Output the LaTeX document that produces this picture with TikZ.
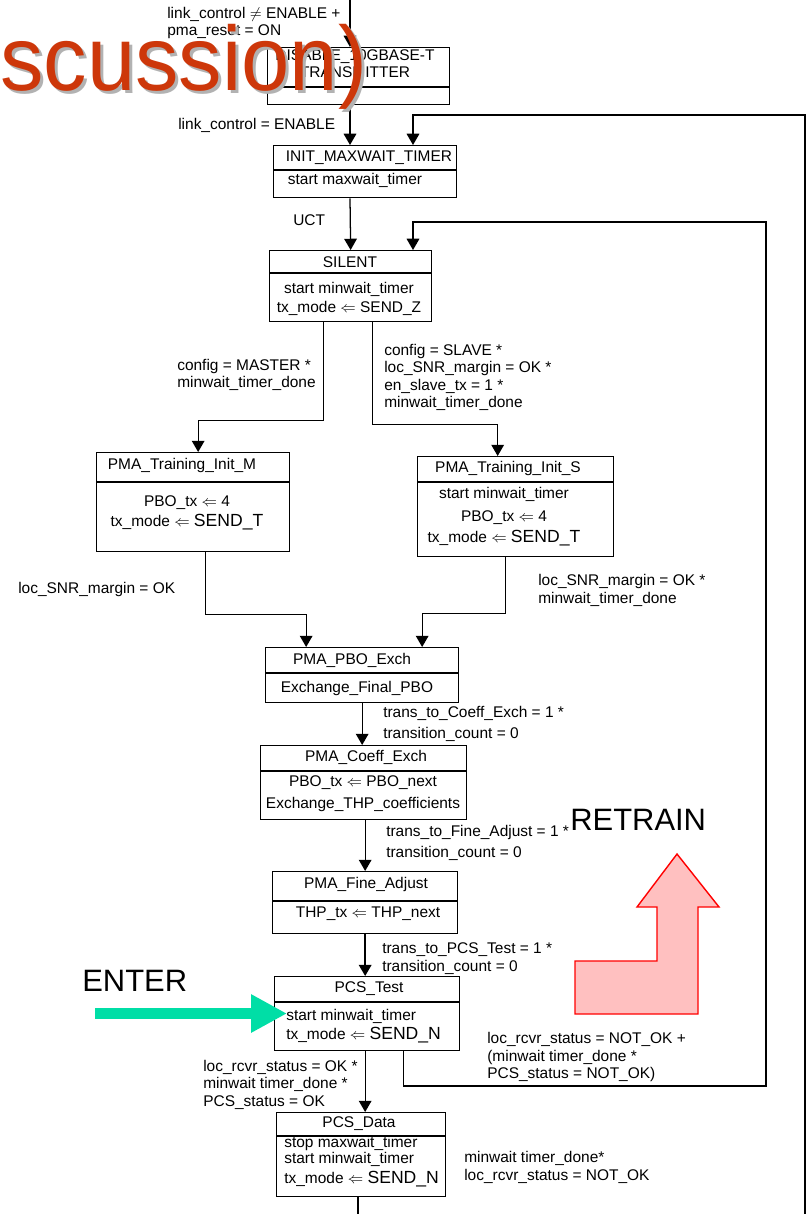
\documentclass[tikz,border=0pt]{standalone}
\usepackage{fontspec}
\setmainfont{Liberation Sans}
\newfontfamily\bigsans[FakeStretch=0.95]{Liberation Sans}
\usetikzlibrary{positioning,calc,arrows.meta}
\definecolor{overlayred}{RGB}{205,55,10}
\definecolor{entergreen}{RGB}{0,222,166}
\definecolor{retrainfill}{RGB}{255,192,192}
\newcommand{\sendval}[1]{{\fontsize{12.5}{14}\selectfont #1}}

\begin{document}
\begin{tikzpicture}[x=0.025cm, y=-0.025cm, font=\fontsize{11}{12.5}\selectfont]
\tikzset{
  statebox/.style={draw=black, line width=0.9pt, inner sep=0pt, anchor=north west},
  boxtitle/.style={inner sep=0pt, align=center},
  boxbody/.style={inner sep=0pt, align=center, font=\fontsize{11}{14}\selectfont},
  cond/.style={inner sep=0pt, anchor=west, align=left},
  wire/.style={draw=black, line width=0.9pt},
  arr/.style={wire, -{Triangle[length=8pt,width=9pt]}},
  banner/.style={inner sep=0pt, anchor=west, font=\fontsize{22}{24}\selectfont},
  enterarrow/.style={draw=entergreen, line width=7.8pt, -{Triangle[length=25.6pt,width=25.6pt]}},
  retrainarrow/.style={draw=red, fill=retrainfill, line width=1pt},
  overlaytext/.style={inner sep=0pt, anchor=base west, font=\bigsans\fontsize{65}{65}\selectfont}
}
\useasboundingbox (0,0) rectangle (806,1214);
\fill[white] (0,0) rectangle (806,1214);

% states
\node[statebox, minimum width=4.55cm, minimum height=1.425cm] (dis) at (267,47) {};
\node[statebox, minimum width=4.575cm, minimum height=1.3cm] (initmw) at (273,145) {};
\node[statebox, minimum width=4.05cm, minimum height=1.775cm] (silent) at (269,250) {};
\node[statebox, minimum width=4.825cm, minimum height=2.475cm] (trainm) at (96,452) {};
\node[statebox, minimum width=4.9cm, minimum height=2.5cm] (trains) at (417,456) {};
\node[statebox, minimum width=4.825cm, minimum height=1.375cm] (pboex) at (265,647) {};
\node[statebox, minimum width=5.15cm, minimum height=1.85cm] (coeffex) at (260,745) {};
\node[statebox, minimum width=4.625cm, minimum height=1.55cm] (fineadj) at (272,871) {};
\node[statebox, minimum width=4.625cm, minimum height=1.85cm] (pcstest) at (274,976) {};
\node[statebox, minimum width=4.225cm, minimum height=2.1cm] (pcsdata) at (276,1112) {};
\foreach \b/\d in {dis/40, initmw/25, silent/23, trainm/30, trains/26, pboex/26, coeffex/26, fineadj/30, pcstest/26, pcsdata/24}
  \draw[wire] ($(\b.north west)+(0,\d)$) -- ($(\b.north east)+(0,\d)$);

% state texts
\node[boxtitle] (distitle) at (355,63.5) {DISABLE\_10GBASE-T\\TRANSMITTER};
\node[boxtitle] (initmwtitle) at (369,158) {INIT\_MAXWAIT\_TIMER};
\node[boxbody] (initmwbody) at (355,180) {start maxwait\_timer};
\node[boxtitle] (silenttitle) at (350,262) {SILENT};
\node[boxbody] (silentbody) at (349,299) {start minwait\_timer\\tx\_mode $\Leftarrow$ SEND\_Z};
\node[boxtitle] (trainmtitle) at (182,465) {PMA\_Training\_Init\_M};
\node[boxbody] (trainmbody) at (187,513) {PBO\_tx $\Leftarrow$ 4\\tx\_mode $\Leftarrow$ \sendval{SEND\_T}};
\node[boxtitle] (trainstitle) at (508,468) {PMA\_Training\_Init\_S};
\node[boxbody] (trainsbody) at (504,516.5) {start minwait\_timer\\[2pt]PBO\_tx $\Leftarrow$ 4\\[1pt]tx\_mode $\Leftarrow$ \sendval{SEND\_T}};
\node[boxtitle] (pboextitle) at (352,660) {PMA\_PBO\_Exch};
\node[boxbody] (pboexbody) at (357,688) {Exchange\_Final\_PBO};
\node[boxtitle] (coeffextitle) at (366,757) {PMA\_Coeff\_Exch};
\node[boxbody] (coeffexbody) at (363,793.5) {PBO\_tx $\Leftarrow$ PBO\_next\\[2pt]Exchange\_THP\_coefficients};
\node[boxtitle] (fineadjtitle) at (366,884) {PMA\_Fine\_Adjust};
\node[boxbody] (fineadjbody) at (368,914) {THP\_tx $\Leftarrow$ THP\_next};
\node[boxtitle] (pcstesttitle) at (369,989) {PCS\_Test};
\node[boxbody, align=left, anchor=west] (pcstestbody) at (286,1026) {start minwait\_timer\\tx\_mode $\Leftarrow$ \sendval{SEND\_N}};
\node[boxtitle] (pcsdatatitle) at (359,1124) {PCS\_Data};
\node[boxbody, align=left, anchor=west] (pcsdatabody) at (284,1161.5) {stop maxwait\_timer\\[-2pt]start minwait\_timer\\tx\_mode $\Leftarrow$ \sendval{SEND\_N}};

% transitions
\coordinate (entry) at (350,0);
\coordinate (loopB) at (805,1214);
\coordinate (loopT) at (413,115);
\coordinate (retrainR) at (766,1086);
\coordinate (retrainT) at (413,222);
\coordinate (exitB) at (358,1214);
\draw[arr] (entry) -- (entry |- dis.north);
\draw[arr] (dis.south -| entry) -- (initmw.north -| entry);
\draw[arr] (initmw.south -| entry) -- (silent.north);
\draw[arr] (loopB) |- (loopT) -- (loopT |- initmw.north);
\draw[arr] ($(silent.south)+(-27,0)$) -- ++(0,98) -| ($(trainm.north)+(5,0)$);
\draw[arr] ($(silent.south)+(22,0)$) -- ++(0,102) -| ($(trains.north)+(-18,0)$);
\draw[arr] ($(trainm.south)+(12,0)$) -- ++(0,62) -| ($(pboex.north)+(-56,0)$);
\draw[arr] ($(trains.south)+(-10,0)$) -- ++(0,56) -| ($(pboex.north)+(60,0)$);
\draw[arr] (pboex.south) -- (pboex.south |- coeffex.north);
\draw[arr] (coeffex.south -| fineadj.north) -- (fineadj.north);
\draw[arr, line width=1.3pt] (fineadj.south) -- (fineadj.south |- pcstest.north);
\draw[arr] (pcstest.south -| fineadj.south) -- (pcsdata.north -| fineadj.south);
\draw[arr] ($(pcstest.south)+(36,0)$) |- (retrainR) |- (retrainT) -- (retrainT |- silent.north);
\draw[wire] (pcsdata.south -| exitB) -- (exitB);

% conditions
\node[cond] (lreset) at (167,23) {link\_control $\neq$ ENABLE +\\pma\_reset = ON};
\node[cond] (lenable) at (178,125) {link\_control = ENABLE};
\node[cond] (luct) at (293,220) {UCT};
\node[cond] (lmaster) at (177,375) {config = MASTER *\\minwait\_timer\_done};
\node[cond] (lslave) at (384,377.5) {config = SLAVE *\\loc\_SNR\_margin = OK *\\en\_slave\_tx = 1 *\\minwait\_timer\_done};
\node[cond] (lsnrm) at (18,589) {loc\_SNR\_margin = OK};
\node[cond] (lsnrs) at (538,590.5) {loc\_SNR\_margin = OK *\\minwait\_timer\_done};
\node[cond] (lcoeff) at (383,723.5) {trans\_to\_Coeff\_Exch = 1 *\\[2.5pt]transition\_count = 0};
\node[cond] (lfine) at (386,842.5) {trans\_to\_Fine\_Adjust = 1 *\\[2.5pt]transition\_count = 0};
\node[cond] (lpcs) at (382,958.5) {trans\_to\_PCS\_Test = 1 *\\transition\_count = 0};
\node[cond] (lok) at (203,1084.5) {loc\_rcvr\_status = OK *\\minwait timer\_done *\\PCS\_status = OK};
\node[cond] (lnotok) at (487,1057) {loc\_rcvr\_status = NOT\_OK +\\(minwait timer\_done *\\PCS\_status = NOT\_OK)};
\node[cond] (ldata) at (464,1167.5) {minwait timer\_done*\\loc\_rcvr\_status = NOT\_OK};

% annotations
\node[banner] (retrain) at (570,820) {RETRAIN};
\filldraw[retrainarrow] (575,1014) -- (698,1014) -- (698,907) -- (719,907) -- (677,854)
  -- (637,907) -- (657,907) -- (657,961) -- (575,961) -- cycle;
\node[banner] (enter) at (82,981) {ENTER};
\coordinate (entertail) at (95,1013.5);
\coordinate (entertip) at (287,1013.5);
\draw[enterarrow] (entertail) -- (entertip);

% title overlay
\node[overlaytext, text=black!30] (ovshadow) at (3,94) {scussion)};
\node[overlaytext, text=overlayred] (ovtext) at (0,91) {scussion)};
\end{tikzpicture}
\end{document}
